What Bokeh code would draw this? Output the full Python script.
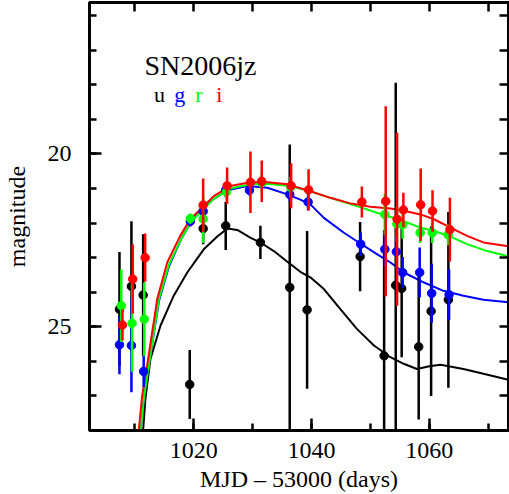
from bokeh.plotting import figure
from bokeh.models import Range1d, LinearAxis, SingleIntervalTicker, Label, CustomLabelingPolicy
from bokeh.embed import file_html
from bokeh.resources import INLINE

# ---- photometry (MJD - 53000, magnitude, error) ----
u_mjd = [1007.39, 1009.42, 1011.41, 1019.32, 1021.6, 1025.43, 1031.32, 1036.3, 1039.25,
         1048.25, 1052.33, 1054.3, 1055.31, 1058.2, 1060.31, 1063.24]
u_mag = [24.49, 23.83, 24.08, 26.67, 22.16, 22.08, 22.56, 23.86, 24.51,
         22.97, 25.84, 23.80, 23.89, 25.58, 24.55, 24.22]
u_err = [1.65, 1.88, 1.76, 1.00, 0.45, 0.70, 0.48, 4.13, 2.28,
         1.00, 3.63, 5.86, 1.99, 2.10, 2.45, 2.54]

g_mjd = [1007.39, 1009.42, 1011.5, 1019.42, 1021.6, 1025.43, 1029.46, 1036.3, 1039.42,
         1048.35, 1052.45, 1054.41, 1055.48, 1058.37, 1060.41, 1063.36]
g_mag = [25.52, 25.54, 26.29, 21.95, 21.66, 21.05, 21.05, 21.17, 21.39,
         22.61, 22.76, 22.83, 23.43, 23.43, 24.03, 24.07]
g_err = [0.85, 1.35, 0.45, 0.15, 0.20, 0.20, 0.15, 0.20, 0.25,
         0.34, 0.50, 0.50, 0.45, 0.72, 0.85, 0.73]

r_mjd = [1007.7, 1009.53, 1011.6, 1019.42, 1021.6, 1025.55, 1031.55, 1036.45,
         1052.45, 1054.5, 1055.48, 1058.45, 1060.5, 1063.2]
r_mag = [24.39, 24.90, 24.78, 21.87, 21.88, 21.10, 20.84, 20.96,
         21.75, 22.03, 22.05, 22.28, 22.28, 22.34]
r_err = [1.05, 1.40, 1.06, 0.15, 0.70, 0.25, 0.30, 0.30,
         0.60, 0.50, 0.40, 0.30, 0.30, 0.30]

i_mjd = [1007.9, 1009.64, 1011.75, 1021.6, 1025.67, 1029.63, 1031.55, 1036.54, 1039.5,
         1048.55, 1052.6, 1054.53, 1055.6, 1058.54, 1060.55, 1063.5]
i_mag = [24.95, 23.62, 23.00, 21.48, 20.92, 20.82, 20.79, 20.92, 21.04,
         21.39, 21.37, 21.89, 21.62, 21.47, 21.65, 22.19]
i_err = [0.45, 1.00, 0.70, 0.77, 0.53, 0.89, 0.60, 0.65, 0.60,
         0.45, 2.75, 2.50, 0.50, 1.05, 0.60, 0.92]

# ---- model light curves ----
u_fit_mjd = [1011.4, 1011.8, 1012.65, 1014.35, 1016.6, 1018.9, 1021.7, 1024.0, 1025.7, 1027.4,
             1029.6, 1031.6, 1033.6, 1035.9, 1038.1, 1039.8, 1042.1, 1044.9, 1047.7, 1050.6,
             1053.4, 1055.65, 1057.9, 1060.0, 1061.9, 1065.8, 1069.2, 1073.4]
u_fit_mag = [28.0, 27.08, 25.93, 24.97, 24.10, 23.43, 22.76, 22.39, 22.16, 22.20,
             22.42, 22.59, 22.81, 23.12, 23.41, 23.57, 23.91, 24.49, 25.06, 25.54,
             25.88, 26.07, 26.22, 26.14, 26.10, 26.22, 26.36, 26.53]

g_fit_mjd = [1011.0, 1011.6, 1012.4, 1014.1, 1015.8, 1017.9, 1019.6, 1022.5, 1025.7, 1029.1,
             1032.5, 1035.9, 1038.1, 1039.8, 1042.1, 1045.5, 1048.3, 1051.1, 1053.4, 1055.7,
             1059.1, 1062.4, 1065.8, 1069.2, 1073.4]
g_fit_mag = [28.0, 27.0, 26.1, 24.25, 23.25, 22.45, 21.95, 21.40, 21.05, 20.93,
             20.98, 21.17, 21.32, 21.46, 21.85, 22.28, 22.59, 22.90, 23.14, 23.43,
             23.72, 23.96, 24.10, 24.22, 24.29]

r_fit_mjd = [1011.0, 1011.6, 1012.4, 1014.1, 1015.8, 1017.9, 1019.6, 1023.4, 1026.2, 1029.6,
             1032.5, 1036.4, 1039.8, 1043.2, 1047.7, 1051.1, 1055.1, 1058.5, 1060.8, 1063.6,
             1066.4, 1069.8, 1073.4]
r_fit_mag = [28.0, 27.0, 26.1, 24.2, 23.2, 22.45, 21.95, 21.30, 21.00, 20.88,
             20.86, 20.93, 21.08, 21.27, 21.51, 21.70, 21.91, 22.13, 22.23, 22.39,
             22.61, 22.81, 22.96]

i_fit_mjd = [1010.66, 1011.24, 1012.1, 1013.8, 1015.5, 1017.7, 1019.4, 1023.4, 1026.2, 1029.6,
             1032.5, 1035.9, 1039.8, 1043.2, 1046.6, 1050.0, 1053.4, 1055.1, 1058.5, 1060.8,
             1063.6, 1066.4, 1069.2, 1073.4]
i_fit_mag = [28.0, 27.0, 26.1, 24.2, 23.14, 22.37, 21.89, 21.22, 20.93, 20.82,
             20.82, 20.88, 21.08, 21.27, 21.43, 21.53, 21.58, 21.62, 21.75, 21.89,
             22.13, 22.37, 22.56, 22.67]

bands = ["u", "g", "r", "i"]
colors = ["#000000", "#0000ff", "#00ff00", "#ff0000"]

FONT = "Liberation Serif"

p = figure(width=509, height=494, output_backend="svg", toolbar_location=None,
           x_range=Range1d(1002.3, 1073.45), y_range=Range1d(28.0, 15.62),
           min_border_left=89, min_border_right=1, min_border_top=2, min_border_bottom=62)
p.grid.visible = False
p.outline_line_color = "black"
p.outline_line_width = 3

# bottom axis
xa = p.xaxis[0]
xa.ticker = SingleIntervalTicker(interval=20, num_minor_ticks=2)
xa.axis_label = "MJD \u2013 53000 (days)"
# left axis
ya = p.yaxis[0]
ya.ticker = SingleIntervalTicker(interval=5, num_minor_ticks=5)
ya.axis_label = "magnitude"

for ax in (xa, ya):
    ax.axis_line_width = 3
    ax.major_tick_in = 12
    ax.major_tick_out = 0
    ax.minor_tick_in = 7
    ax.minor_tick_out = 0
    ax.major_tick_line_width = 2.5
    ax.minor_tick_line_width = 2.5
    ax.major_label_text_font = FONT
    ax.major_label_text_font_size = "24px"
    ax.axis_label_text_font = FONT
    ax.axis_label_text_font_size = "24px"
    ax.axis_label_text_font_style = "normal"
    ax.major_label_text_color = "black"
    ax.axis_label_text_color = "black"
xa.major_label_standoff = 12
xa.axis_label_standoff = 5
ya.major_label_standoff = 18
ya.axis_label_standoff = 15

top = LinearAxis(ticker=SingleIntervalTicker(interval=10, num_minor_ticks=0))
right = LinearAxis(ticker=SingleIntervalTicker(interval=1, num_minor_ticks=0))
for ax in (top, right):
    ax.axis_line_width = 3
    ax.major_tick_in = 9
    ax.major_tick_out = 0
    ax.minor_tick_in = 0
    ax.minor_tick_out = 0
    ax.major_tick_line_width = 2.5
    ax.major_label_text_font_size = "0px"
    ax.major_label_standoff = 0
    ax.major_label_policy = CustomLabelingPolicy(code="return []")
p.add_layout(top, "above")
p.add_layout(right, "right")

# model curves
fits = [(u_fit_mjd, u_fit_mag), (g_fit_mjd, g_fit_mag), (r_fit_mjd, r_fit_mag), (i_fit_mjd, i_fit_mag)]
for (fx, fy), c in zip(fits, colors):
    p.line(fx, fy, line_color=c, line_width=2)

# photometry with error bars
phot = [(u_mjd, u_mag, u_err), (g_mjd, g_mag, g_err), (r_mjd, r_mag, r_err), (i_mjd, i_mag, i_err)]
for (mx, my, me), c in zip(phot, colors):
    p.segment(x0=mx, x1=mx, y0=[m - e for m, e in zip(my, me)], y1=[m + e for m, e in zip(my, me)],
              line_color=c, line_width=2.5)
    p.scatter(mx, my, size=8.5, fill_color=c, line_color=c)

p.add_layout(Label(x=1021.14, y=17.45, text="SN2006jz", text_align="center",
                   text_baseline="alphabetic", text_font=FONT, text_font_size="28px",
                   text_color="black"))
for b, c, xx in zip(bands, colors, [1014.19, 1017.64, 1020.88, 1024.36]):
    p.add_layout(Label(x=xx, y=18.29, text=b, text_align="center", text_baseline="alphabetic",
                       text_font=FONT, text_font_size="22px", text_color=c))

open("out.html", "w").write(file_html(p, INLINE))
